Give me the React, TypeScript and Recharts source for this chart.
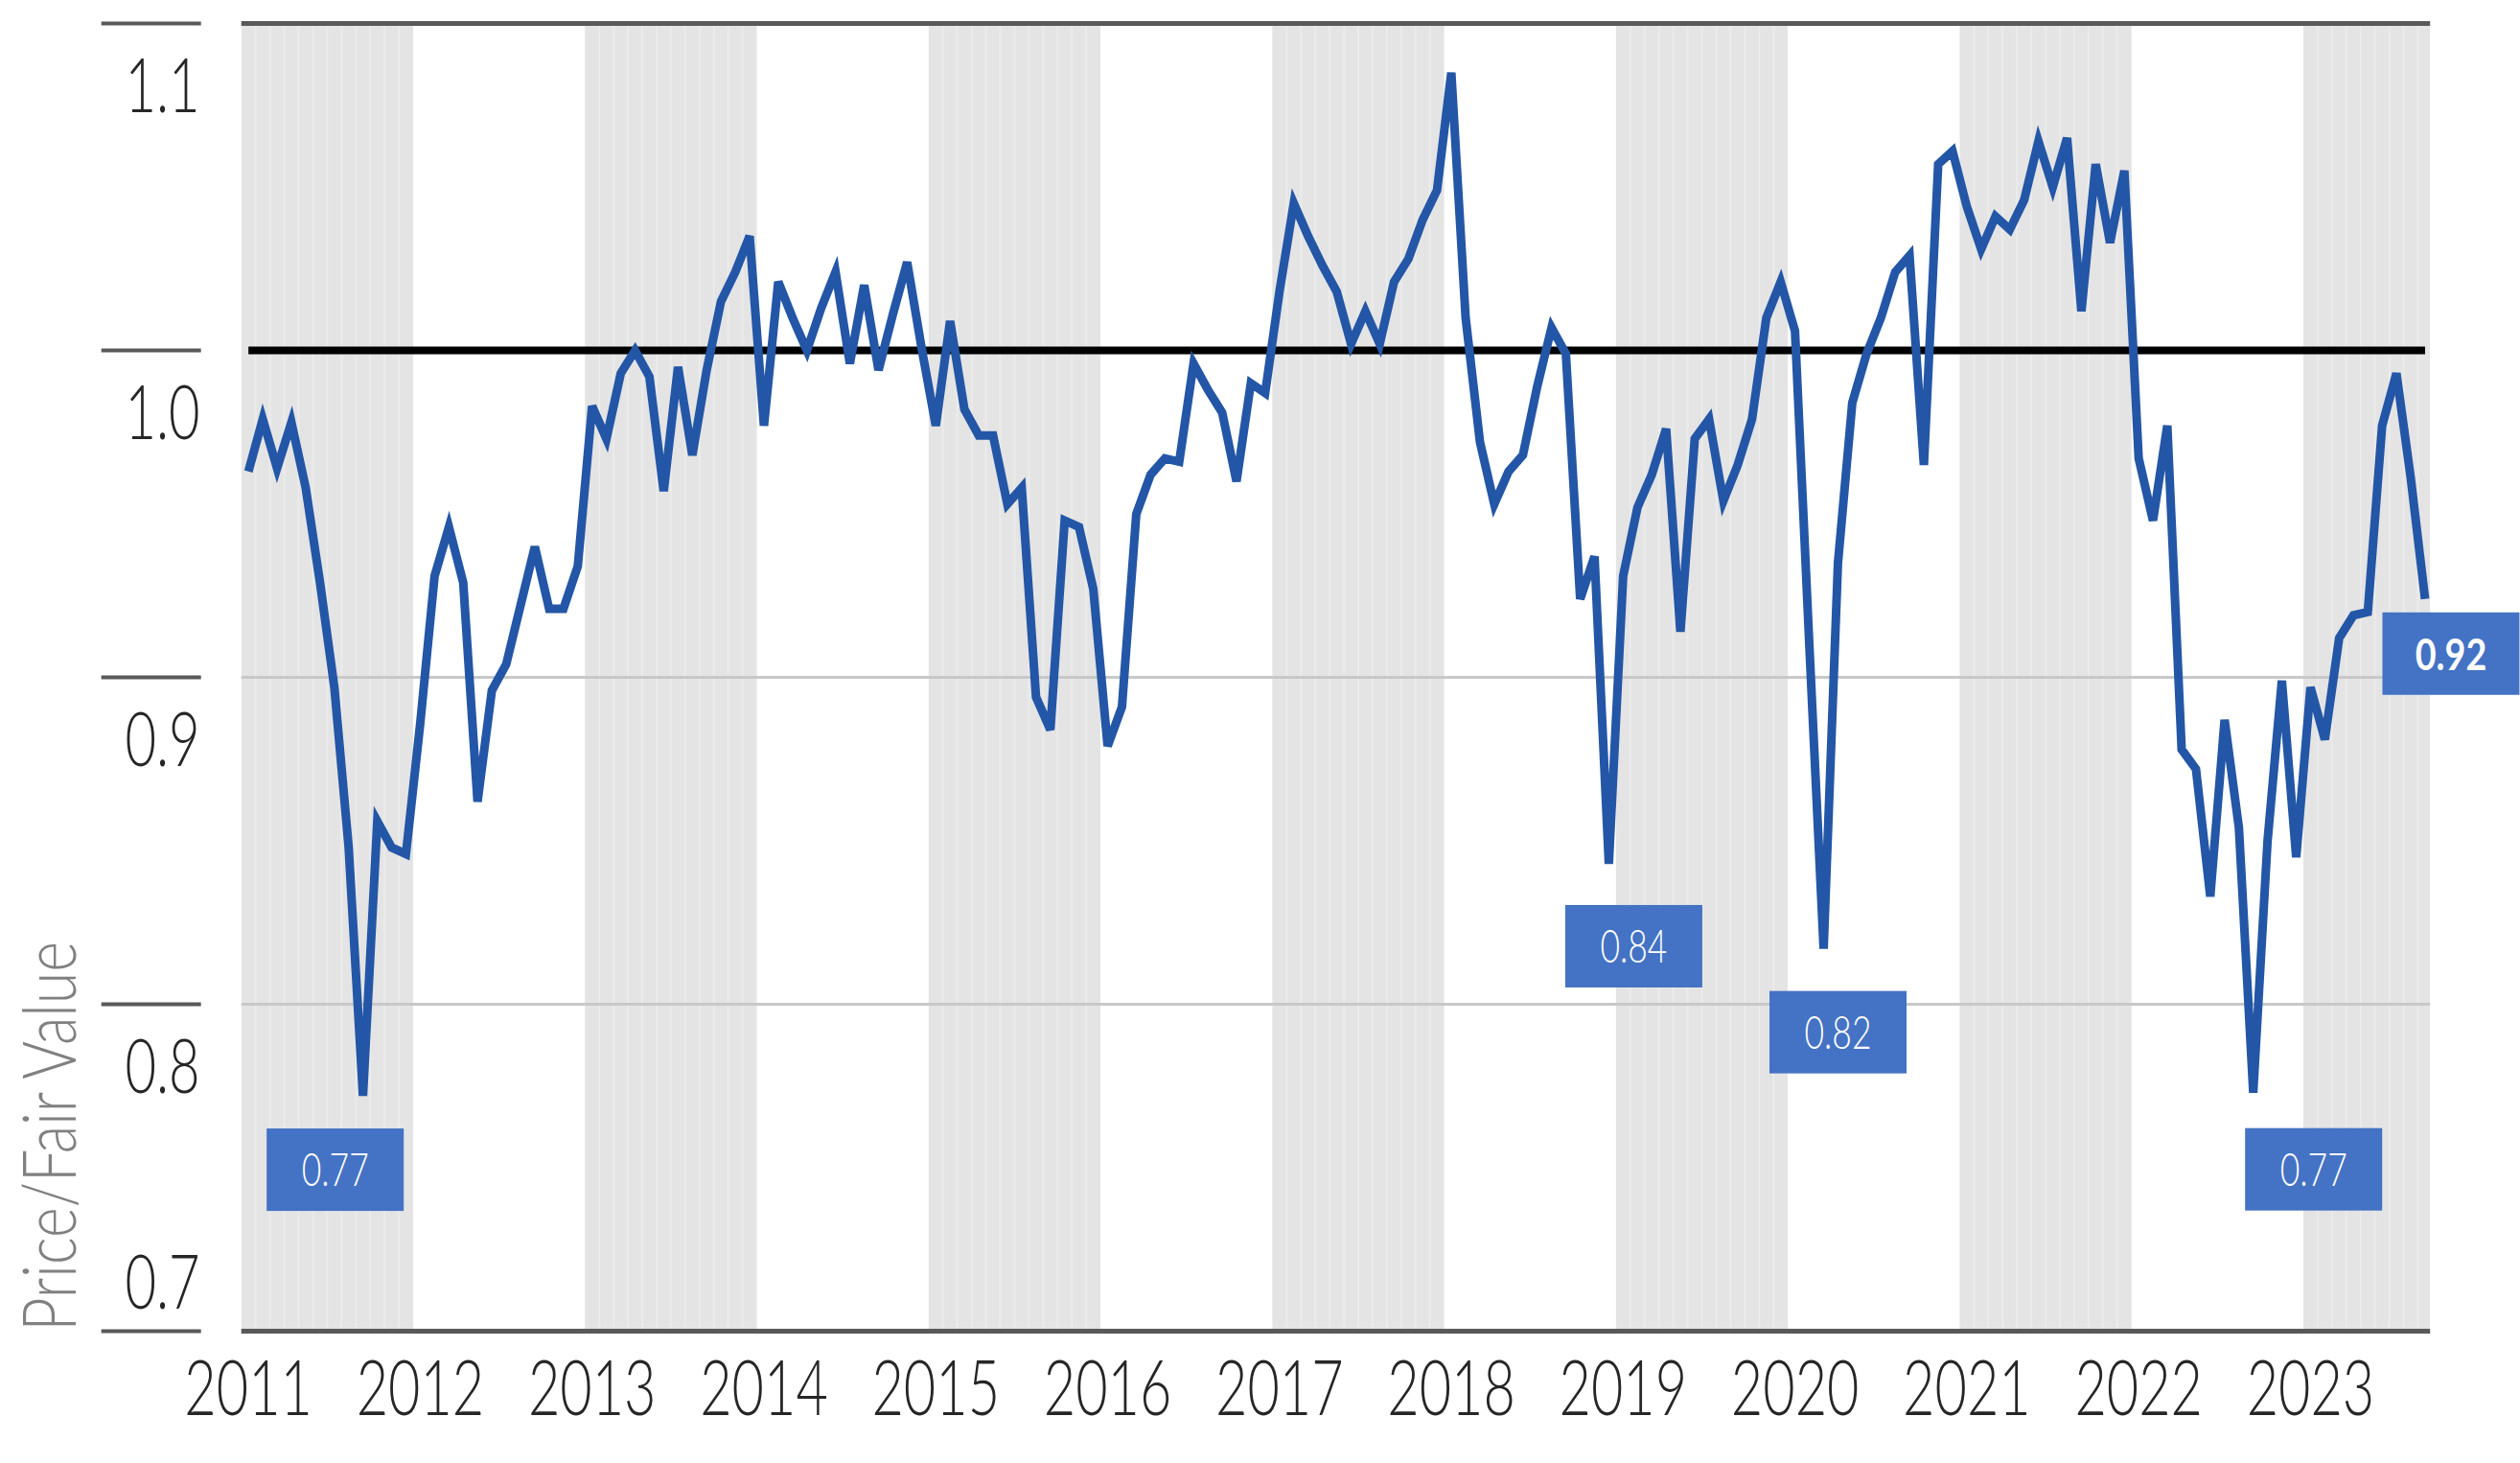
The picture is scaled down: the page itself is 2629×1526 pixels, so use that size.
import React from 'react';
import {
    LineChart,
    Line,
    XAxis,
    YAxis,
    ReferenceArea,
    ReferenceLine,
    ReferenceDot,
} from 'recharts';

// monthly price / fair value, one array per year (Jan..Dec)
const p2011 = [0.963, 0.979, 0.964, 0.978, 0.958, 0.929, 0.897, 0.848, 0.772, 0.856, 0.848, 0.846];
const p2012 = [0.886, 0.931, 0.946, 0.929, 0.862, 0.896, 0.904, 0.922, 0.94, 0.921, 0.921, 0.934];
const p2013 = [0.983, 0.973, 0.993, 1.0, 0.992, 0.957, 0.995, 0.968, 0.994, 1.015, 1.024, 1.035];
const p2014 = [0.977, 1.021, 1.01, 1.0, 1.013, 1.024, 0.996, 1.02, 0.994, 1.011, 1.027, 1.001];
const p2015 = [0.977, 1.009, 0.982, 0.974, 0.974, 0.953, 0.958, 0.894, 0.884, 0.948, 0.946, 0.927];
const p2016 = [0.879, 0.891, 0.95, 0.962, 0.967, 0.966, 0.996, 0.988, 0.981, 0.96, 0.99, 0.987];
const p2017 = [1.018, 1.045, 1.035, 1.026, 1.018, 1.002, 1.012, 1.002, 1.021, 1.028, 1.04, 1.049];
const p2018 = [1.085, 1.01, 0.972, 0.953, 0.963, 0.968, 0.989, 1.007, 0.999, 0.924, 0.937, 0.843];
const p2019 = [0.931, 0.952, 0.962, 0.976, 0.914, 0.973, 0.979, 0.954, 0.965, 0.979, 1.01, 1.021];
const p2020 = [1.006, 0.91, 0.817, 0.935, 0.984, 0.999, 1.01, 1.024, 1.029, 0.965, 1.057, 1.061];
const p2021 = [1.044, 1.031, 1.041, 1.037, 1.046, 1.064, 1.05, 1.065, 1.012, 1.057, 1.033, 1.055];
const p2022 = [0.967, 0.948, 0.977, 0.878, 0.872, 0.833, 0.887, 0.854, 0.773, 0.85, 0.899, 0.845];
const p2023 = [0.897, 0.881, 0.912, 0.919, 0.92, 0.977, 0.993, 0.961, 0.924];

const yearLabels = ['2011', '2012', '2013', '2014', '2015', '2016', '2017', '2018', '2019', '2020', '2021', '2022', '2023'];
const yTicks = [0.7, 0.8, 0.9, 1.0, 1.1];
const calloutIdx = [8, 95, 110, 140, 152];

const series = [p2011, p2012, p2013, p2014, p2015, p2016, p2017, p2018, p2019, p2020, p2021, p2022, p2023].flat();
const data = series.map((v, i) => ({ m: i, v }));
const lastIdx = series.length - 1;
const xDomain = [-0.5, lastIdx + 0.35];

// box offsets relative to the point (centre dx, top dy)
const calloutPos: Record<number, { dx: number; dy: number; bold?: boolean }> = {
    8: { dx: -29, dy: 34 },
    95: { dx: 26, dy: 43 },
    110: { dx: 15, dy: 44 },
    140: { dx: 63, dy: 37 },
    152: { dx: 27, dy: 14, bold: true },
};

const FONT = 'Lato, Roboto, "Liberation Sans", sans-serif';
const BAND = '#e4e4e4';
const AXIS = '#595959';

const grayYears = yearLabels.map((_, k) => k).filter((k) => k % 2 === 0);

function XTick({ x, y, payload }: any) {
    return (
        <text
            transform={`translate(${x},${y + 87}) scale(0.72,1)`}
            textAnchor="middle"
            fontFamily={FONT}
            fontSize={80}
            fontWeight={300}
            fill="#262626"
        >
            {yearLabels[Math.round(payload.value / 12)]}
        </text>
    );
}

function YTick({ x, y, payload }: any) {
    const below = payload.value > 0.75;
    return (
        <g>
            <line x1={x - 146} x2={x - 42} y1={y} y2={y} stroke={AXIS} strokeWidth={4} />
            <text
                transform={`translate(${x - 43},${y + (below ? 92 : -24)}) scale(0.72,1)`}
                textAnchor="end"
                fontFamily={FONT}
                fontSize={78}
                fontWeight={300}
                fill="#262626"
            >
                {Number(payload.value).toFixed(1)}
            </text>
        </g>
    );
}

function YTitle({ viewBox }: any) {
    const { x, y, height } = viewBox;
    return (
        <text
            transform={`translate(${x + 79},${y + height}) rotate(-90) scale(0.8,1)`}
            textAnchor="start"
            fontFamily={FONT}
            fontSize={76}
            fontWeight={300}
            fill="#808080"
        >
            Price/Fair Value
        </text>
    );
}

function Callout({ cx, cy, idx }: any) {
    const pos = calloutPos[idx];
    const w = 143;
    const h = 86;
    const left = cx + pos.dx - w / 2;
    const top = cy + pos.dy;
    return (
        <g>
            <rect x={left} y={top} width={w} height={h} fill="#4472C4" />
            <text
                transform={`translate(${left + w / 2},${top + h / 2 + 17}) scale(${pos.bold ? 0.82 : 0.74},1)`}
                textAnchor="middle"
                fontFamily={FONT}
                fontSize={pos.bold ? 46 : 48}
                fontWeight={pos.bold ? 700 : 300}
                fill="#ffffff"
            >
                {series[idx].toFixed(2)}
            </text>
        </g>
    );
}

export default function App() {
    const stripes: number[] = [];
    grayYears.forEach((k) => {
        for (let m = 1; m < 12; m++) {
            const s = k * 12 - 0.5 + m;
            if (s < xDomain[1]) stripes.push(s);
        }
    });

    return (
        <div style={{ width: 2629, height: 1526, background: '#fff' }}>
            <style>{'body{margin:0}'}</style>
            <LineChart
                width={2629}
                height={1526}
                data={data}
                margin={{ top: 24.6, right: 93.8, left: 0, bottom: 17.4 }}
            >
                <XAxis
                    dataKey="m"
                    type="number"
                    domain={xDomain}
                    ticks={yearLabels.map((_, k) => k * 12)}
                    tick={<XTick />}
                    axisLine={false}
                    tickLine={false}
                    tickSize={0}
                    tickMargin={0}
                    height={120}
                    allowDataOverflow
                />
                <YAxis
                    type="number"
                    domain={[0.7, 1.1]}
                    ticks={yTicks}
                    tick={<YTick />}
                    axisLine={false}
                    tickLine={false}
                    tickSize={0}
                    tickMargin={0}
                    width={251.7}
                    interval={0}
                    label={<YTitle />}
                    allowDataOverflow
                />
                {grayYears.map((k) => (
                    <ReferenceArea
                        key={`band-${k}`}
                        x1={k * 12 - 0.5}
                        x2={Math.min(k * 12 + 11.5, xDomain[1])}
                        y1={0.7}
                        y2={1.1}
                        fill={BAND}
                        fillOpacity={1}
                        stroke="none"
                        ifOverflow="hidden"
                    />
                ))}
                {stripes.map((s) => (
                    <ReferenceLine key={`st-${s}`} x={s} stroke="#ebebeb" strokeWidth={2} />
                ))}
                <ReferenceLine y={0.8} stroke="#c8c8c8" strokeWidth={3} />
                <ReferenceLine y={0.9} stroke="#c8c8c8" strokeWidth={3} />
                <ReferenceLine y={1.1} stroke={AXIS} strokeWidth={5} />
                <ReferenceLine y={0.7} stroke={AXIS} strokeWidth={5} />
                <ReferenceLine
                    segment={[
                        { x: 0, y: 1 },
                        { x: lastIdx, y: 1 },
                    ]}
                    stroke="#000000"
                    strokeWidth={8}
                />
                <Line
                    type="linear"
                    dataKey="v"
                    stroke="#2356a6"
                    strokeWidth={9}
                    strokeLinejoin="miter"
                    dot={false}
                    activeDot={false}
                    isAnimationActive={false}
                />
                {calloutIdx.map((idx) => (
                    <ReferenceDot
                        key={`c-${idx}`}
                        x={idx}
                        y={series[idx]}
                        r={0}
                        ifOverflow="visible"
                        shape={(p: any) => <Callout cx={p.cx} cy={p.cy} idx={idx} />}
                    />
                ))}
            </LineChart>
        </div>
    );
}
